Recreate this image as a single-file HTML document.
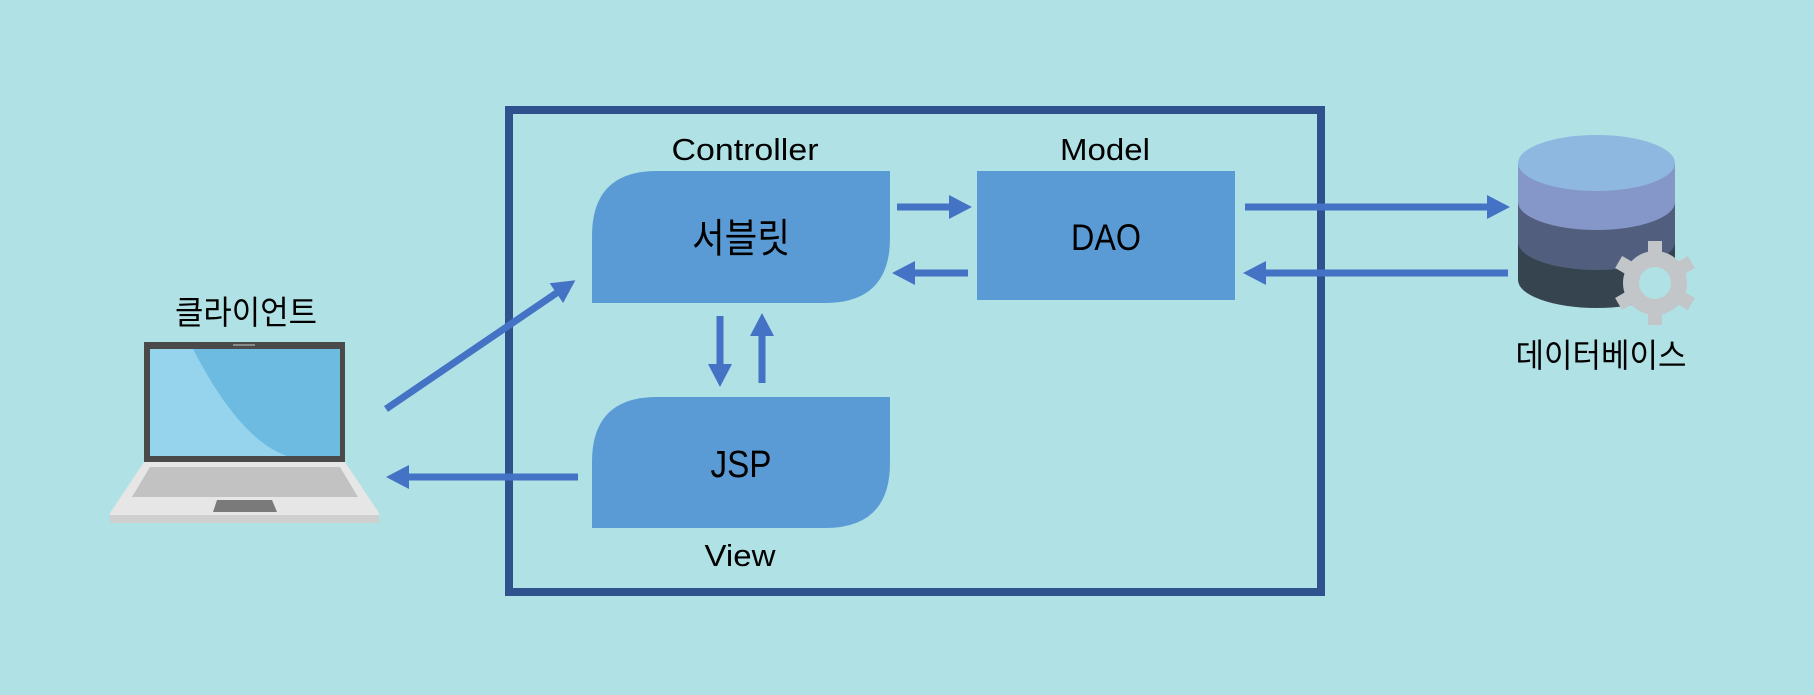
<!DOCTYPE html>
<html><head><meta charset="utf-8"><style>
html,body{margin:0;padding:0;background:#b0e1e5;}
svg{display:block}
text{font-family:"Liberation Sans","Noto Sans CJK KR",sans-serif;fill:#000}
</style></head><body>
<svg width="1814" height="695" viewBox="0 0 1814 695" xmlns="http://www.w3.org/2000/svg">
<defs>
<marker id="ah" markerWidth="23" markerHeight="24" refX="2" refY="12" orient="auto" markerUnits="userSpaceOnUse">
<path d="M0,0 L23,12 L0,24 z" fill="#4472c4"/>
</marker>
</defs>
<rect width="1814" height="695" fill="#b0e1e5"/>
<rect x="509" y="110" width="812" height="482" fill="none" stroke="#2f528f" stroke-width="8"/>
<text x="745" y="160" font-size="31" text-anchor="middle" textLength="147" lengthAdjust="spacingAndGlyphs">Controller</text>
<text x="1105" y="160" font-size="31" text-anchor="middle" textLength="90" lengthAdjust="spacingAndGlyphs">Model</text>
<text x="740" y="566" font-size="31" text-anchor="middle" textLength="71" lengthAdjust="spacingAndGlyphs">View</text>
<text x="246" y="324" font-size="33" text-anchor="middle" textLength="142" lengthAdjust="spacingAndGlyphs">클라이언트</text>
<text x="1601" y="367" font-size="33" text-anchor="middle" textLength="171" lengthAdjust="spacingAndGlyphs">데이터베이스</text>
<path d="M592,303 L592,236 Q592,171 657,171 L890,171 L890,238 Q890,303 825,303 Z" fill="#5b9bd5"/>
<text x="741" y="252" font-size="40" text-anchor="middle" textLength="98" lengthAdjust="spacingAndGlyphs">서블릿</text>
<path d="M592,528 L592,462 Q592,397 657,397 L890,397 L890,463 Q890,528 825,528 Z" fill="#5b9bd5"/>
<text x="741" y="477" font-size="38" text-anchor="middle" textLength="61" lengthAdjust="spacingAndGlyphs">JSP</text>
<rect x="977" y="171" width="258" height="129" fill="#5b9bd5"/>
<text x="1106" y="250" font-size="37" text-anchor="middle" textLength="70" lengthAdjust="spacingAndGlyphs">DAO</text>
<g stroke="#4472c4" stroke-width="7" fill="none">
<line x1="386" y1="409" x2="558" y2="292" marker-end="url(#ah)"/>
<line x1="578" y1="477" x2="407" y2="477" marker-end="url(#ah)"/>
<line x1="720" y1="316" x2="720" y2="366" marker-end="url(#ah)"/>
<line x1="762" y1="383" x2="762" y2="334" marker-end="url(#ah)"/>
<line x1="897" y1="207" x2="951" y2="207" marker-end="url(#ah)"/>
<line x1="968" y1="273" x2="913" y2="273" marker-end="url(#ah)"/>
<line x1="1245" y1="207" x2="1489" y2="207" marker-end="url(#ah)"/>
<line x1="1508" y1="273" x2="1264" y2="273" marker-end="url(#ah)"/>
</g>
<path d="M1518,163 L1518,280 A78.5,28 0 0 0 1675,280 L1675,163 Z" fill="#36444f"/>
<path d="M1518,163 L1518,242 A78.5,28 0 0 0 1675,242 L1675,163 Z" fill="#525e7e"/>
<path d="M1518,163 L1518,202 A78.5,28 0 0 0 1675,202 L1675,163 Z" fill="#8597c9"/>
<ellipse cx="1596.5" cy="163" rx="78.5" ry="28" fill="#8fb8e0"/>
<g transform="translate(1655,283)">
<g fill="#c3c6c9">
<circle r="32"/>
<rect x="-7" y="-42" width="14" height="84"/>
<rect x="-7" y="-42" width="14" height="84" transform="rotate(60)"/>
<rect x="-7" y="-42" width="14" height="84" transform="rotate(120)"/>
</g>
<circle r="16" fill="#b0e1e5"/>
</g>
<path d="M144,462 L345,462 L379,513 L379,520 Q379,523 375,523 L114,523 Q110,523 110,520 L110,513 Z" fill="#e6e6e6"/>
<rect x="110" y="515" width="269" height="8" fill="#cfcfcf"/>
<polygon points="150,467 340,467 358,497 132,497" fill="#c2c2c2"/>
<polygon points="217,500 272,500 277,512 213,512" fill="#7a7a7a"/>
<rect x="144" y="342" width="201" height="120" fill="#4a4a4a"/>
<rect x="150" y="349" width="190" height="107" fill="#6dbbe1"/>
<path d="M150,349 L193,349 Q240,440 287,456 L150,456 Z" fill="#96d3ec"/>
<rect x="233" y="344" width="22" height="2" fill="#888"/>
</svg>
</body></html>
